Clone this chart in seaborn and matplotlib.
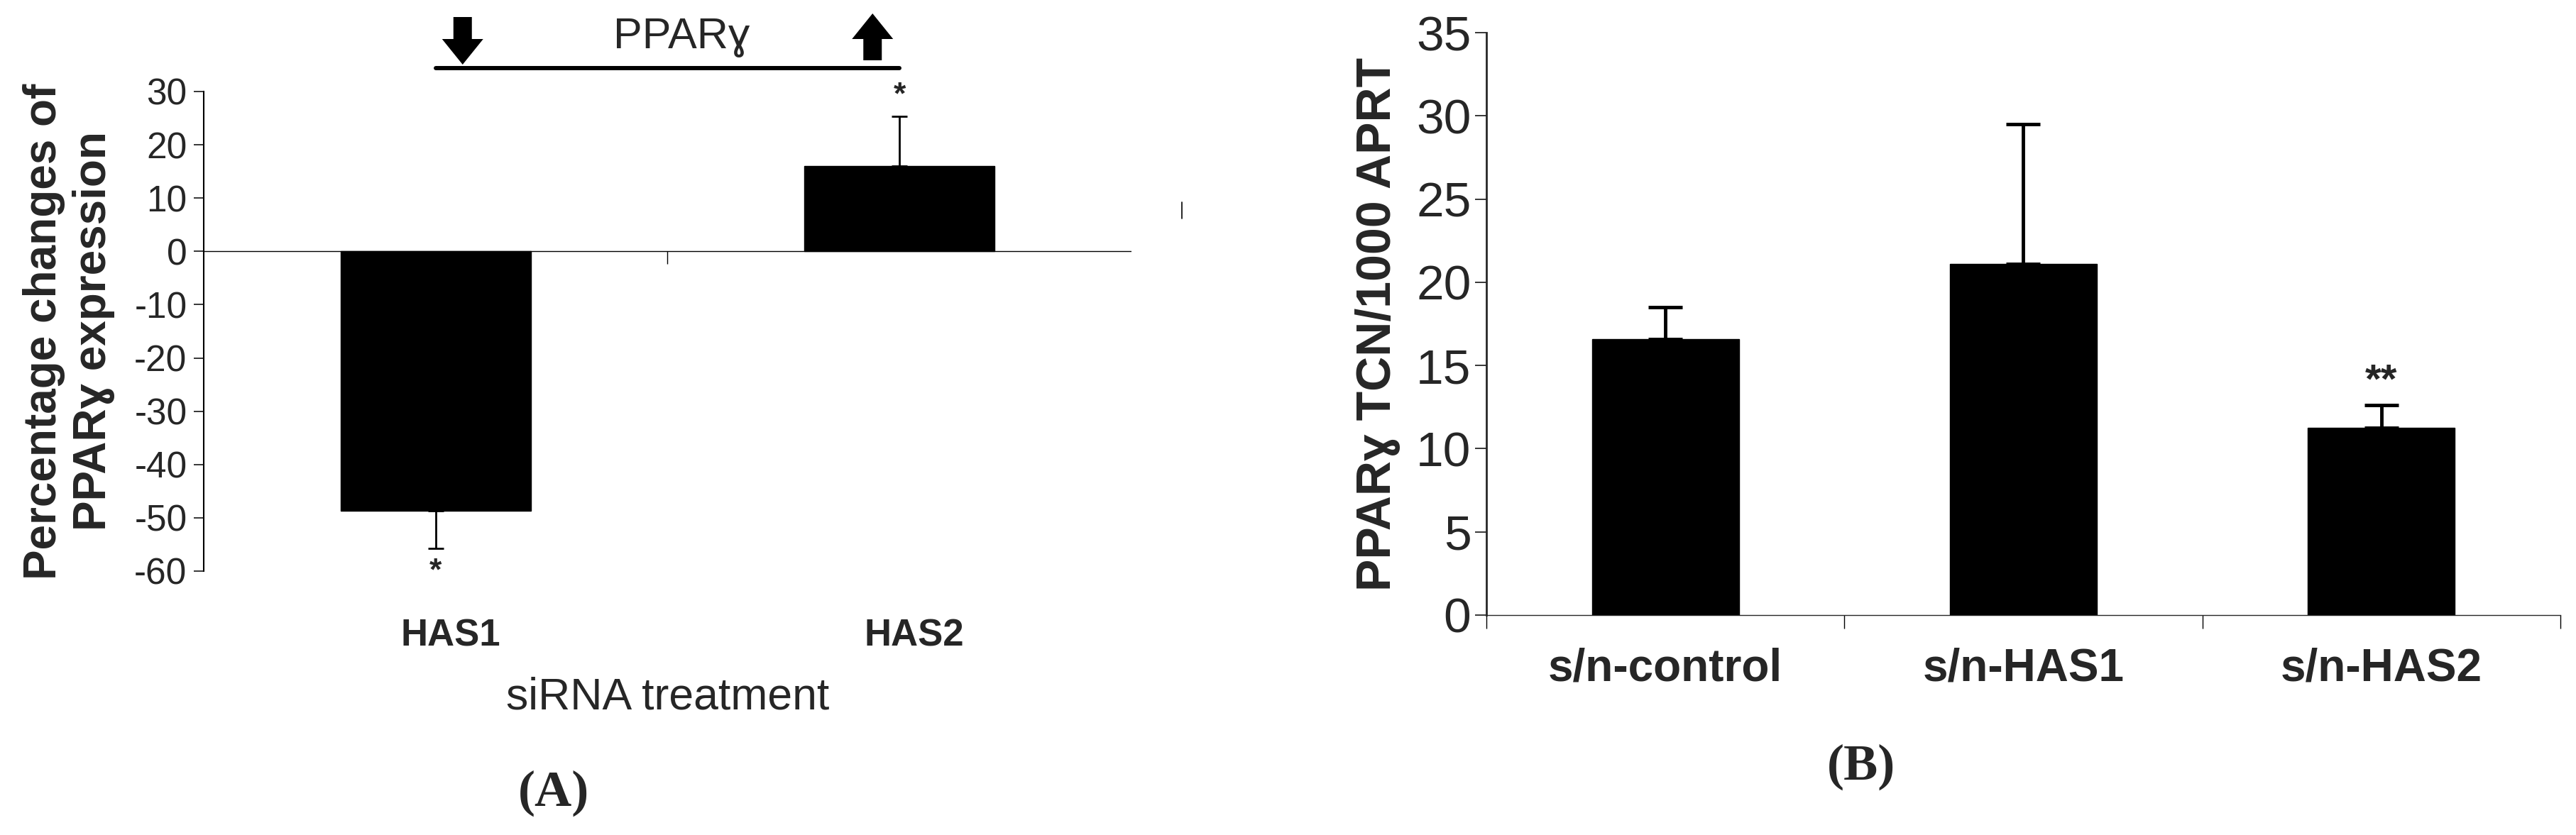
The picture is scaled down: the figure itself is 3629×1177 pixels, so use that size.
import matplotlib
matplotlib.use("Agg")
import matplotlib.pyplot as plt
from matplotlib import font_manager
from matplotlib.patches import Polygon
from matplotlib.lines import Line2D
from matplotlib.transforms import (blended_transform_factory, IdentityTransform,
                                   ScaledTranslation)
import numpy as np
import pandas as pd
import seaborn as sns

# ---- panel A: % change of PPARg expression after siRNA treatment
a_groups = ["HAS1", "HAS2"]
a_change = [-48.7, 16.0]
a_err    = [7.1, 9.3]
a_stars  = ["*", "*"]
a_yticks = [30, 20, 10, 0, -10, -20, -30, -40, -50, -60]

# ---- panel B: PPARg TCN / 1000 APRT
b_groups = ["s/n-control", "s/n-HAS1", "s/n-HAS2"]
b_tcn    = [16.6, 21.1, 11.25]
b_err    = [1.9, 8.4, 1.35]
b_stars  = ["", "", "**"]
b_yticks = [0, 5, 10, 15, 20, 25, 30, 35]

W, H, DPI = 3630, 1177, 100

sns.set_style("white")
names = {f.name for f in font_manager.fontManager.ttflist}
NARROW = ["Liberation Sans Narrow", "Liberation Sans", "DejaVu Sans"] \
    if "Liberation Sans Narrow" in names else ["Liberation Sans", "DejaVu Sans"]
SANS = ["Liberation Sans", "DejaVu Sans"]
SERIF = ["Liberation Serif", "DejaVu Serif"]
plt.rcParams["font.family"] = SANS


def px_rect(left, top, right, bottom):
    # pixel box (from top-left) -> figure fraction rect
    return [left / W, 1 - bottom / H, (right - left) / W, (bottom - top) / H]


def block_arrow(cx, y_tail, y_tip, shaft_w=26, head_w=58, head_h=36):
    # display-pixel polygon, y measured from the top of the image
    d = 1 if y_tip > y_tail else -1
    yb = y_tip - d * head_h
    pts = [(cx - shaft_w / 2, y_tail), (cx + shaft_w / 2, y_tail),
           (cx + shaft_w / 2, yb), (cx + head_w / 2, yb), (cx, y_tip),
           (cx - head_w / 2, yb), (cx - shaft_w / 2, yb)]
    return Polygon([(x, H - y) for x, y in pts], closed=True,
                   transform=IdentityTransform(), facecolor="black",
                   edgecolor="none")


fig = plt.figure(figsize=(W / DPI, H / DPI), dpi=DPI, facecolor="white")

# ================= panel A =================
axA = fig.add_axes(px_rect(287, 129, 1594, 805))
dfA = pd.DataFrame({"group": a_groups, "change": a_change})
sns.barplot(data=dfA, x="group", y="change", color="black", width=0.41,
            errorbar=None, ax=axA, saturation=1)
for bar in axA.patches:
    bar.set_edgecolor("black")
xa = np.arange(len(a_groups))
lo = [e if v < 0 else 0 for v, e in zip(a_change, a_err)]
hi = [e if v >= 0 else 0 for v, e in zip(a_change, a_err)]
axA.errorbar(xa, a_change, yerr=[lo, hi], fmt="none", ecolor="black",
             elinewidth=2.0, capsize=8, capthick=2.0)
for i, (v, e, s) in enumerate(zip(a_change, a_err, a_stars)):
    if v < 0:
        axA.text(i, v - e - 1.6, s, ha="center", va="top", fontsize=32,
                 fontweight="bold", family=SANS, clip_on=False)
    else:
        axA.text(i, v + e + 1.2, s, ha="center", va="bottom", fontsize=32,
                 fontweight="bold", family=SANS, clip_on=False)

axA.set_xlim(-0.5, 1.5)
axA.set_ylim(-60, 30)
axA.set_yticks(a_yticks)
axA.set_yticklabels([str(t) for t in a_yticks], family=SANS, fontsize=37)
axA.tick_params(axis="y", direction="out", length=10, width=1.1, pad=7,
                left=True, color="black")
axA.tick_params(axis="x", length=0, pad=48)
shift = ScaledTranslation(21 / DPI, 0, fig.dpi_scale_trans)
for lab in axA.get_xticklabels():
    lab.set_fontfamily(NARROW)
    lab.set_fontweight("bold")
    lab.set_fontsize(38)
    lab.set_transform(lab.get_transform() + shift)
for side in ["top", "right", "bottom"]:
    axA.spines[side].set_visible(False)
axA.spines["left"].set_linewidth(1.5)
axA.spines["left"].set_color("black")
axA.axhline(0, color="black", lw=1.0)
axA.plot([xa.mean()], [0], marker=3, markersize=13, mew=1.0, color="black",
         clip_on=False)

axA.set_xlabel("siRNA treatment", family=NARROW, fontsize=45)
axA.xaxis.set_label_coords(0.5, -0.263)
axA.xaxis.label.set_va("center")
axA.set_ylabel("Percentage changes of\nPPARɣ expression", fontsize=46,
               fontweight="bold", family=SANS, linespacing=1.2)
axA.yaxis.set_label_coords(-0.1454, 0.5)
axA.yaxis.label.set_va("center")

# PPARg bracket with down / up arrows above the bars
blend = blended_transform_factory(axA.transData, fig.transFigure)
axA.add_line(Line2D([xa[0], xa[-1]], [1 - 96 / H] * 2, transform=blend,
                    color="black", lw=4.3, clip_on=False))
axA.text(xa.mean() + 0.03, 1 - 68 / H, "PPARɣ", transform=blend,
         ha="center", va="baseline", fontsize=44, family=NARROW,
         clip_on=False)
fig.canvas.draw()
x0 = axA.transData.transform((xa[0], 0))[0]
x1 = axA.transData.transform((xa[-1], 0))[0]
fig.add_artist(block_arrow(x0 + 38, 24, 91))
fig.add_artist(block_arrow(x1 - 38, 85, 19))
# stray tick mark right of panel A
fig.add_artist(Line2D([1665 / W] * 2, [1 - 285 / H, 1 - 308 / H],
                      color="black", lw=1.2))
fig.text(780 / W, 1 - 1118 / H, "(A)", ha="center", va="center",
         fontsize=52, fontweight="bold", family=SERIF)

# ================= panel B =================
axB = fig.add_axes(px_rect(2094, 46, 3607, 867))
dfB = pd.DataFrame({"group": b_groups, "tcn": b_tcn})
sns.barplot(data=dfB, x="group", y="tcn", color="black", width=0.41,
            errorbar=None, ax=axB, saturation=1)
for bar in axB.patches:
    bar.set_edgecolor("black")
xb = np.arange(len(b_groups))
axB.errorbar(xb, b_tcn, yerr=[np.zeros(len(b_err)), b_err], fmt="none",
             ecolor="black", elinewidth=3.5, capsize=17, capthick=3.5)
for i, (v, e, s) in enumerate(zip(b_tcn, b_err, b_stars)):
    if s:
        axB.text(i, v + e + 0.25, s, ha="center", va="bottom", fontsize=42,
                 fontweight="bold", family=SANS, clip_on=False)

axB.set_xlim(-0.5, len(b_groups) - 0.5)
axB.set_ylim(0, 35)
axB.set_yticks(b_yticks)
axB.set_yticklabels([str(t) for t in b_yticks], family=NARROW, fontsize=50)
axB.tick_params(axis="y", direction="out", length=11.5, width=1.1, pad=4,
                left=True, color="black")
axB.set_xticks(np.arange(-0.5, len(b_groups)), minor=True)
axB.tick_params(axis="x", which="minor", direction="out", length=13.5,
                width=1.0, bottom=True, color="black")
axB.tick_params(axis="x", which="major", length=0, pad=33)
for lab in axB.get_xticklabels():
    lab.set_fontfamily(NARROW)
    lab.set_fontweight("bold")
    lab.set_fontsize(46)
for side in ["top", "right"]:
    axB.spines[side].set_visible(False)
axB.spines["left"].set_linewidth(2.0)
axB.spines["left"].set_bounds(0, 35)
axB.spines["bottom"].set_linewidth(1.0)
axB.set_xlabel("")
axB.set_ylabel("PPARɣ TCN/1000 APRT", fontsize=49, fontweight="bold",
               family=SANS)
axB.yaxis.set_label_coords(-0.101, 0.5)
axB.yaxis.label.set_va("center")
fig.text(2622 / W, 1 - 1081 / H, "(B)", ha="center", va="center",
         fontsize=52, fontweight="bold", family=SERIF)

fig.savefig("out.png", dpi=DPI, facecolor="white")
